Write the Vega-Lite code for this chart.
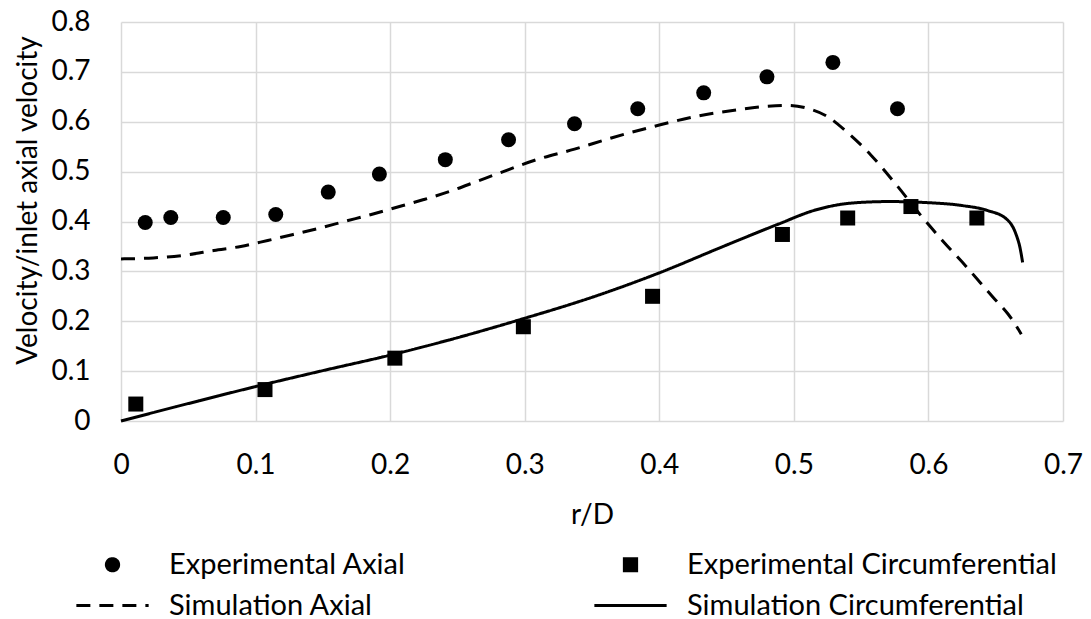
{
  "$schema": "https://vega.github.io/schema/vega-lite/v6.json",
  "width": 942,
  "height": 399,
  "autosize": {"type": "none"},
  "padding": {"left": 121, "top": 22, "right": 28, "bottom": 198},
  "background": "white",
  "config": {
    "view": {"stroke": null},
    "axis": {
      "labelFont": "Lato",
      "labelFontSize": 28,
      "labelColor": "#000000",
      "titleFont": "Lato",
      "titleFontSize": 28,
      "titleFontWeight": "normal",
      "titleColor": "#000000",
      "grid": true,
      "gridColor": "#d9d9d9",
      "gridWidth": 1.5,
      "domain": false,
      "ticks": false,
      "labelFlush": false,
      "labelOverlap": false
    },
    "legend": {
      "orient": "none",
      "legendX": -23,
      "legendY": 528,
      "columns": 2,
      "direction": "horizontal",
      "labelFont": "Lato",
      "labelFontSize": 29,
      "labelColor": "#000000",
      "labelLimit": 0,
      "symbolSize": 150,
      "symbolStrokeWidth": 3,
      "symbolStrokeColor": "#000000",
      "symbolFillColor": "#000000",
      "symbolOpacity": 1,
      "labelOffset": 42,
      "columnPadding": 182,
      "rowPadding": 11,
      "padding": 0
    }
  },
  "data": {
    "values": [
      {"x": 0.018, "y": 0.398, "series": "Experimental Axial"},
      {"x": 0.037, "y": 0.408, "series": "Experimental Axial"},
      {"x": 0.076, "y": 0.408, "series": "Experimental Axial"},
      {"x": 0.115, "y": 0.414, "series": "Experimental Axial"},
      {"x": 0.154, "y": 0.459, "series": "Experimental Axial"},
      {"x": 0.192, "y": 0.495, "series": "Experimental Axial"},
      {"x": 0.241, "y": 0.524, "series": "Experimental Axial"},
      {"x": 0.288, "y": 0.564, "series": "Experimental Axial"},
      {"x": 0.337, "y": 0.596, "series": "Experimental Axial"},
      {"x": 0.384, "y": 0.626, "series": "Experimental Axial"},
      {"x": 0.433, "y": 0.658, "series": "Experimental Axial"},
      {"x": 0.480, "y": 0.690, "series": "Experimental Axial"},
      {"x": 0.529, "y": 0.719, "series": "Experimental Axial"},
      {"x": 0.577, "y": 0.626, "series": "Experimental Axial"},
      {"x": 0.011, "y": 0.034, "series": "Experimental Circumferential"},
      {"x": 0.107, "y": 0.063, "series": "Experimental Circumferential"},
      {"x": 0.2035, "y": 0.126, "series": "Experimental Circumferential"},
      {"x": 0.299, "y": 0.189, "series": "Experimental Circumferential"},
      {"x": 0.395, "y": 0.250, "series": "Experimental Circumferential"},
      {"x": 0.4915, "y": 0.374, "series": "Experimental Circumferential"},
      {"x": 0.540, "y": 0.407, "series": "Experimental Circumferential"},
      {"x": 0.587, "y": 0.430, "series": "Experimental Circumferential"},
      {"x": 0.636, "y": 0.407, "series": "Experimental Circumferential"},
      {"x": 0.000, "y": 0.325, "series": "Simulation Axial"},
      {"x": 0.024, "y": 0.327, "series": "Simulation Axial"},
      {"x": 0.049, "y": 0.333, "series": "Simulation Axial"},
      {"x": 0.069, "y": 0.342, "series": "Simulation Axial"},
      {"x": 0.089, "y": 0.350, "series": "Simulation Axial"},
      {"x": 0.109, "y": 0.362, "series": "Simulation Axial"},
      {"x": 0.128, "y": 0.374, "series": "Simulation Axial"},
      {"x": 0.148, "y": 0.387, "series": "Simulation Axial"},
      {"x": 0.166, "y": 0.400, "series": "Simulation Axial"},
      {"x": 0.186, "y": 0.414, "series": "Simulation Axial"},
      {"x": 0.203, "y": 0.427, "series": "Simulation Axial"},
      {"x": 0.225, "y": 0.444, "series": "Simulation Axial"},
      {"x": 0.245, "y": 0.461, "series": "Simulation Axial"},
      {"x": 0.265, "y": 0.481, "series": "Simulation Axial"},
      {"x": 0.282, "y": 0.498, "series": "Simulation Axial"},
      {"x": 0.310, "y": 0.525, "series": "Simulation Axial"},
      {"x": 0.337, "y": 0.545, "series": "Simulation Axial"},
      {"x": 0.365, "y": 0.568, "series": "Simulation Axial"},
      {"x": 0.398, "y": 0.592, "series": "Simulation Axial"},
      {"x": 0.428, "y": 0.611, "series": "Simulation Axial"},
      {"x": 0.458, "y": 0.624, "series": "Simulation Axial"},
      {"x": 0.480, "y": 0.631, "series": "Simulation Axial"},
      {"x": 0.495, "y": 0.633, "series": "Simulation Axial"},
      {"x": 0.510, "y": 0.627, "series": "Simulation Axial"},
      {"x": 0.524, "y": 0.612, "series": "Simulation Axial"},
      {"x": 0.540, "y": 0.578, "series": "Simulation Axial"},
      {"x": 0.557, "y": 0.534, "series": "Simulation Axial"},
      {"x": 0.576, "y": 0.474, "series": "Simulation Axial"},
      {"x": 0.595, "y": 0.410, "series": "Simulation Axial"},
      {"x": 0.612, "y": 0.357, "series": "Simulation Axial"},
      {"x": 0.628, "y": 0.310, "series": "Simulation Axial"},
      {"x": 0.648, "y": 0.248, "series": "Simulation Axial"},
      {"x": 0.659, "y": 0.215, "series": "Simulation Axial"},
      {"x": 0.664, "y": 0.196, "series": "Simulation Axial"},
      {"x": 0.669, "y": 0.174, "series": "Simulation Axial"},
      {"x": 0.000, "y": 0.000, "series": "Simulation Circumferential"},
      {"x": 0.050, "y": 0.035, "series": "Simulation Circumferential"},
      {"x": 0.100, "y": 0.069, "series": "Simulation Circumferential"},
      {"x": 0.150, "y": 0.101, "series": "Simulation Circumferential"},
      {"x": 0.200, "y": 0.132, "series": "Simulation Circumferential"},
      {"x": 0.250, "y": 0.167, "series": "Simulation Circumferential"},
      {"x": 0.300, "y": 0.206, "series": "Simulation Circumferential"},
      {"x": 0.350, "y": 0.248, "series": "Simulation Circumferential"},
      {"x": 0.400, "y": 0.297, "series": "Simulation Circumferential"},
      {"x": 0.4475, "y": 0.350, "series": "Simulation Circumferential"},
      {"x": 0.4887, "y": 0.395, "series": "Simulation Circumferential"},
      {"x": 0.516, "y": 0.423, "series": "Simulation Circumferential"},
      {"x": 0.543, "y": 0.437, "series": "Simulation Circumferential"},
      {"x": 0.571, "y": 0.440, "series": "Simulation Circumferential"},
      {"x": 0.598, "y": 0.438, "series": "Simulation Circumferential"},
      {"x": 0.625, "y": 0.432, "series": "Simulation Circumferential"},
      {"x": 0.644, "y": 0.422, "series": "Simulation Circumferential"},
      {"x": 0.658, "y": 0.405, "series": "Simulation Circumferential"},
      {"x": 0.665, "y": 0.375, "series": "Simulation Circumferential"},
      {"x": 0.668, "y": 0.348, "series": "Simulation Circumferential"},
      {"x": 0.670, "y": 0.318, "series": "Simulation Circumferential"}
    ]
  },
  "encoding": {
    "x": {
      "field": "x",
      "type": "quantitative",
      "title": "r/D",
      "scale": {"domain": [0, 0.7], "nice": false, "zero": false},
      "axis": {
        "values": [0, 0.1, 0.2, 0.3, 0.4, 0.5, 0.6, 0.7],
        "format": ".1~f",
        "labelPadding": 30,
        "titleY": 80,
        "titleBaseline": "top"
      }
    },
    "y": {
      "field": "y",
      "type": "quantitative",
      "title": "Velocity/inlet axial velocity",
      "scale": {"domain": [0, 0.8], "nice": false},
      "axis": {
        "values": [0, 0.1, 0.2, 0.3, 0.4, 0.5, 0.6, 0.7, 0.8],
        "format": ".1~f",
        "labelPadding": 31,
        "titleX": -93,
        "titleY": 178,
        "titleAngle": 270,
        "titleAlign": "center",
        "titleBaseline": "middle"
      }
    }
  },
  "layer": [
    {
      "transform": [{"filter": {"field": "series", "oneOf": ["Simulation Axial", "Simulation Circumferential"]}}],
      "mark": {"type": "line", "color": "#000000", "strokeWidth": 3, "interpolate": "monotone"},
      "encoding": {
        "strokeDash": {
          "field": "series",
          "type": "nominal",
          "scale": {
            "domain": ["Experimental Axial", "Experimental Circumferential", "Simulation Axial", "Simulation Circumferential"],
            "range": [[1, 0], [1, 0], [14, 9], [1, 0]]
          },
          "legend": {
            "title": null,
            "encode": {"symbols": {"update": {"stroke": {"value": "#000000"}, "strokeWidth": {"value": 3}, "fill": {"value": "#000000"}, "opacity": {"value": 1}}}}
          }
        }
      }
    },
    {
      "transform": [{"filter": {"field": "series", "oneOf": ["Experimental Axial", "Experimental Circumferential"]}}],
      "mark": {"type": "point", "filled": true, "color": "#000000", "opacity": 1, "size": 225},
      "encoding": {
        "shape": {
          "field": "series",
          "type": "nominal",
          "scale": {
            "domain": ["Experimental Axial", "Experimental Circumferential", "Simulation Axial", "Simulation Circumferential"],
            "range": ["circle", "square", "M-5.9,0L5.9,0", "M-5.9,0L5.9,0"]
          },
          "legend": {
            "title": null,
            "encode": {"symbols": {"update": {"stroke": {"value": "#000000"}, "strokeWidth": {"value": 3}, "fill": {"value": "#000000"}, "opacity": {"value": 1}}}}
          }
        }
      }
    }
  ]
}
